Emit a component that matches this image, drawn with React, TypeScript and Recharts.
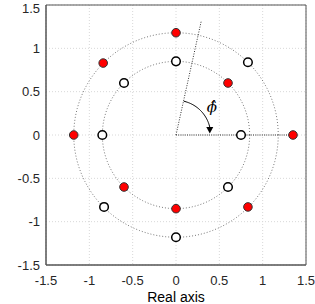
import React from 'react'
import { ScatterChart, Scatter, XAxis, YAxis, CartesianGrid, ReferenceArea, Label } from 'recharts'

const ticks = [-1.5, -1, -0.5, 0, 0.5, 1, 1.5]

// filled red markers
const redX = [0, -0.84, -1.18, 0.6, -0.6, 0, 0.83, 1.35]
const redY = [1.18, 0.83, 0, 0.6, -0.6, -0.85, -0.83, 0]

// open markers
const openX = [0, -0.6, -0.85, 0.83, 0.75, 0.6, -0.83, 0]
const openY = [0.85, 0.6, 0, 0.84, 0, -0.6, -0.83, -1.18]

const circleRadii = [0.85, 1.18]
const rayLength = 1.35
const phiDeg = 77.5
const arcRadius = 0.4
const arcEndDeg = 13
const phiLabelX = 0.415
const phiLabelY = 0.335

const axisColor = '#262626'
const frameColor = '#555'
const font = '"Liberation Sans", Arial, sans-serif'

const toPoints = (xs: number[], ys: number[]) => xs.map((x, i) => ({ x, y: ys[i] }))

// circle outline traced from its radius
const circlePoints = (r: number) => {
  const pts = []
  for (let a = 0; a <= 360; a += 3) {
    const t = (a * Math.PI) / 180
    pts.push({ x: r * Math.cos(t), y: r * Math.sin(t) })
  }
  return pts
}

const arcPoints = () => {
  const pts = []
  for (let a = phiDeg - 0.5; a >= arcEndDeg; a -= 2) {
    const t = (a * Math.PI) / 180
    pts.push({ x: arcRadius * Math.cos(t), y: arcRadius * Math.sin(t) })
  }
  return pts
}

const phiRad = (phiDeg * Math.PI) / 180
const rayData = [
  { x: 0, y: 0 },
  { x: rayLength * Math.cos(phiRad), y: rayLength * Math.sin(phiRad) },
]
const axisRayData = [
  { x: 0, y: 0 },
  { x: rayLength, y: 0 },
]
const arrowData = [{ x: arcRadius * Math.cos((arcEndDeg * Math.PI) / 180), y: 0.058 }]
const phiData = [{ x: phiLabelX, y: phiLabelY }]

const none = () => <g />

const RedDot = (p: any) => <circle cx={p.cx} cy={p.cy} r={4.3} fill="#ff0000" stroke="#333" strokeWidth={1} />
const OpenDot = (p: any) => <circle cx={p.cx} cy={p.cy} r={4.3} fill="#fff" stroke="#000" strokeWidth={1.5} />
const Arrow = (p: any) => (
  <polygon
    points={`${p.cx - 3.5},${p.cy - 3} ${p.cx + 3.5},${p.cy - 3} ${p.cx},${p.cy + 3.5}`}
    fill="#000"
  />
)
const PhiLabel = (p: any) => (
  <text
    x={p.cx}
    y={p.cy + 6}
    textAnchor="middle"
    fontSize={15}
    fontStyle="italic"
    fontFamily='"DejaVu Serif", "Liberation Serif", serif'
    fill="#000"
  >
    {'\u03D5\u0302'}
  </text>
)

export default function App() {
  const tickStyle = { fontSize: 13, fill: axisColor, fontFamily: font }
  return (
    <div style={{ position: 'absolute', left: 0, top: 0, background: '#fff' }}>
      <ScatterChart width={315} height={304} margin={{ top: 5, right: 9, left: 0, bottom: 0 }}>
        <CartesianGrid stroke="#d8d8d8" strokeDasharray="1 2" />
        <XAxis
          type="number"
          dataKey="x"
          domain={[-1.5, 1.5]}
          ticks={ticks}
          allowDataOverflow
          height={39}
          tick={tickStyle}
          tickLine={false}
          tickSize={0}
          tickMargin={11}
          axisLine={{ stroke: frameColor }}
        >
          <Label
            value="Real axis"
            position="insideBottom"
            offset={2}
            style={{ fontSize: 14, fill: '#000', fontFamily: font }}
          />
        </XAxis>
        <YAxis
          type="number"
          dataKey="y"
          domain={[-1.5, 1.5]}
          ticks={ticks}
          allowDataOverflow
          width={46}
          tick={tickStyle}
          tickLine={false}
          tickSize={0}
          tickMargin={6}
          axisLine={{ stroke: frameColor }}
        />
        <ReferenceArea x1={-1.5} x2={1.5} y1={-1.5} y2={1.5} fill="none" stroke={frameColor} strokeWidth={1} />
        {circleRadii.map((r) => (
          <Scatter
            key={r}
            data={circlePoints(r)}
            line={{ stroke: '#555', strokeWidth: 0.8, strokeDasharray: '1 2' }}
            lineType="joint"
            shape={none}
            isAnimationActive={false}
          />
        ))}
        <Scatter
          data={rayData}
          line={{ stroke: '#333', strokeWidth: 1, strokeDasharray: '1 1.5' }}
          lineType="joint"
          shape={none}
          isAnimationActive={false}
        />
        <Scatter
          data={axisRayData}
          line={{ stroke: '#333', strokeWidth: 1.2, strokeDasharray: '1 1.2' }}
          lineType="joint"
          shape={none}
          isAnimationActive={false}
        />
        <Scatter
          data={arcPoints()}
          line={{ stroke: '#000', strokeWidth: 1 }}
          lineType="joint"
          shape={none}
          isAnimationActive={false}
        />
        <Scatter data={arrowData} shape={Arrow} isAnimationActive={false} />
        <Scatter data={phiData} shape={PhiLabel} isAnimationActive={false} />
        <Scatter data={toPoints(redX, redY)} shape={RedDot} isAnimationActive={false} />
        <Scatter data={toPoints(openX, openY)} shape={OpenDot} isAnimationActive={false} />
      </ScatterChart>
    </div>
  )
}
